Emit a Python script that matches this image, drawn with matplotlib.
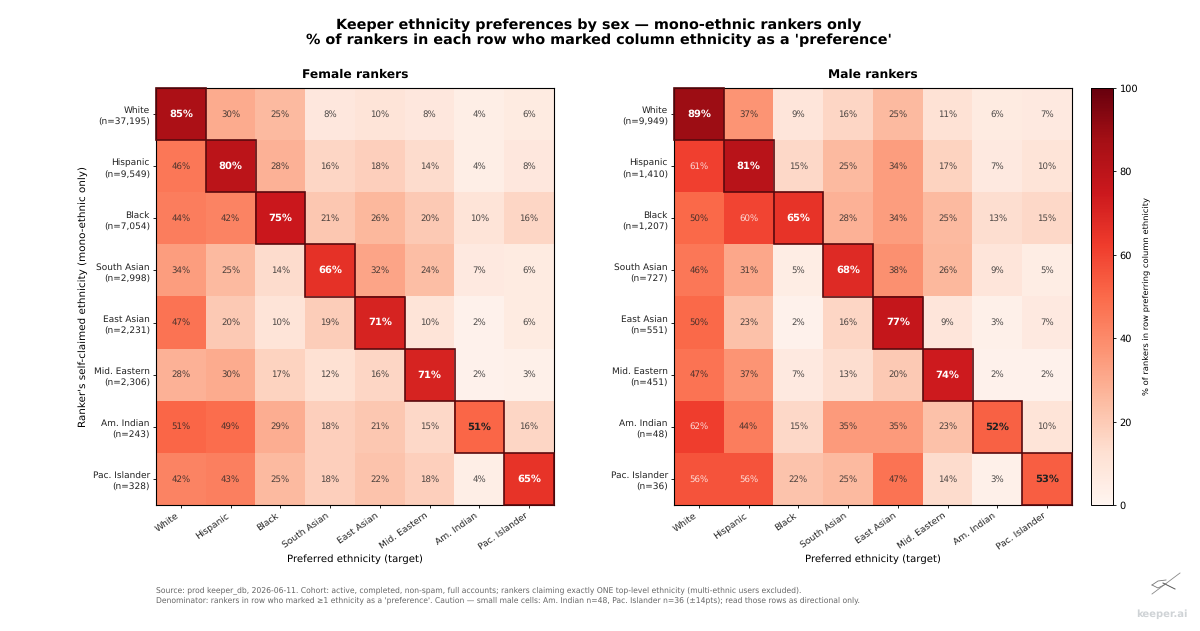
import matplotlib
matplotlib.use("Agg")
import matplotlib.pyplot as plt
from matplotlib.lines import Line2D
from matplotlib.patches import Rectangle
import numpy as np

ethnicities = ["White", "Hispanic", "Black", "South Asian", "East Asian", "Mid. Eastern", "Am. Indian", "Pac. Islander"]
female_n = ["37,195", "9,549", "7,054", "2,998", "2,231", "2,306", "243", "328"]
male_n = ["9,949", "1,410", "1,207", "727", "551", "451", "48", "36"]
female_values = [
    [85, 30, 25, 8, 10, 8, 4, 6],
    [46, 80, 28, 16, 18, 14, 4, 8],
    [44, 42, 75, 21, 26, 20, 10, 16],
    [34, 25, 14, 66, 32, 24, 7, 6],
    [47, 20, 10, 19, 71, 10, 2, 6],
    [28, 30, 17, 12, 16, 71, 2, 3],
    [51, 49, 29, 18, 21, 15, 51, 16],
    [42, 43, 25, 18, 22, 18, 4, 65],
]
male_values = [
    [89, 37, 9, 16, 25, 11, 6, 7],
    [61, 81, 15, 25, 34, 17, 7, 10],
    [50, 60, 65, 28, 34, 25, 13, 15],
    [46, 31, 5, 68, 38, 26, 9, 5],
    [50, 23, 2, 16, 77, 9, 3, 7],
    [47, 37, 7, 13, 20, 74, 2, 2],
    [62, 44, 15, 35, 35, 23, 52, 10],
    [56, 56, 22, 25, 47, 14, 3, 53],
]

W, H = 1200, 631
plt.rcParams["text.hinting"] = "no_hinting"
fig = plt.figure(figsize=(12, 6.31), dpi=100, facecolor="white")


def ax_px(x0, y0, x1, y1):
    return fig.add_axes([x0 / W, 1 - y1 / H, (x1 - x0) / W, (y1 - y0) / H])


def panel(ax, vals, ns, title, ylabel):
    vals = np.array(vals)
    im = ax.imshow(vals, cmap="Reds", vmin=0, vmax=100, aspect="auto")
    n = len(ethnicities)
    ax.set_xticks(range(n))
    ax.set_xticklabels(ethnicities, rotation=35, ha="right", fontsize=6.6, color="#222222")
    ax.set_yticks(range(n))
    ax.set_yticklabels([f"{e}\n(n={c})" for e, c in zip(ethnicities, ns)], fontsize=6.5, color="#222222", linespacing=1.5)
    ax.tick_params(length=2.2, width=0.6, pad=2.2)
    ax.set_xlabel("Preferred ethnicity (target)", fontsize=7.3, labelpad=2)
    if ylabel:
        ax.set_ylabel(ylabel, fontsize=7.5, labelpad=3)
    ax.set_title(title, fontsize=8.8, fontweight="bold", pad=7)
    for s in ax.spines.values():
        s.set_linewidth(0.8)
    for i in range(n):
        for j in range(n):
            v = vals[i, j]
            color = "white" if v > 55 else "#222222"
            if i == j:
                ax.text(j, i, f"{v}%", ha="center", va="center", fontsize=7.2, fontweight="bold", color=color)
                ax.add_patch(Rectangle((j - .5, i - .5), 1, 1, fill=False, ec="#5a0a0e", lw=1.2, zorder=3, clip_on=False))
            else:
                ax.text(j, i, f"{v}%", ha="center", va="center", fontsize=6.2, color=color, alpha=0.8)
    return im


ax1 = ax_px(156, 88, 554, 505)
ax2 = ax_px(674, 88, 1072, 505)
panel(ax1, female_values, female_n, "Female rankers", "Ranker's self-claimed ethnicity (mono-ethnic only)")
im = panel(ax2, male_values, male_n, "Male rankers", None)

cax = ax_px(1091, 88, 1113, 505)
cb = fig.colorbar(im, cax=cax)
cb.set_ticks([0, 20, 40, 60, 80, 100])
cb.ax.tick_params(labelsize=7, length=2.2, width=0.6, pad=2.5)
cb.set_label("% of rankers in row preferring column ethnicity", fontsize=6.0, labelpad=3)
cb.outline.set_linewidth(0.7)

fig.text(599 / W, 1 - 32.5 / H, "Keeper ethnicity preferences by sex — mono-ethnic rankers only\n% of rankers in each row who marked column ethnicity as a 'preference'",
         ha="center", va="center", fontsize=10.4, fontweight="bold", color="black", linespacing=1.15)

fig.text(156 / W, 1 - 595 / H,
         "Source: prod keeper_db, 2026-06-11. Cohort: active, completed, non-spam, full accounts; rankers claiming exactly ONE top-level ethnicity (multi-ethnic users excluded).\n"
         "Denominator: rankers in row who marked ≥1 ethnicity as a 'preference'. Caution — small male cells: Am. Indian n=48, Pac. Islander n=36 (±14pts); read those rows as directional only.",
         ha="left", va="center", fontsize=5.5, color="#666666", linespacing=1.35)

fig.text(1162 / W, 1 - 614 / H, "keeper.ai", ha="center", va="center", fontsize=7.2, fontweight="bold", color="#cfd3d6")
for xs, ys, c, lw in [
    ([1152, 1180], [594, 573], "#888888", 0.6),
    ([1163, 1175], [583, 589], "#555555", 0.7),
    ([1152, 1158, 1166], [585, 581, 580], "#777777", 0.6),
    ([1152, 1158, 1166], [585, 588, 584], "#777777", 0.6),
]:
    fig.add_artist(Line2D(np.array(xs) / W, 1 - np.array(ys) / H, color=c, lw=lw, transform=fig.transFigure))

fig.savefig("out.png", dpi=100, facecolor="white")
